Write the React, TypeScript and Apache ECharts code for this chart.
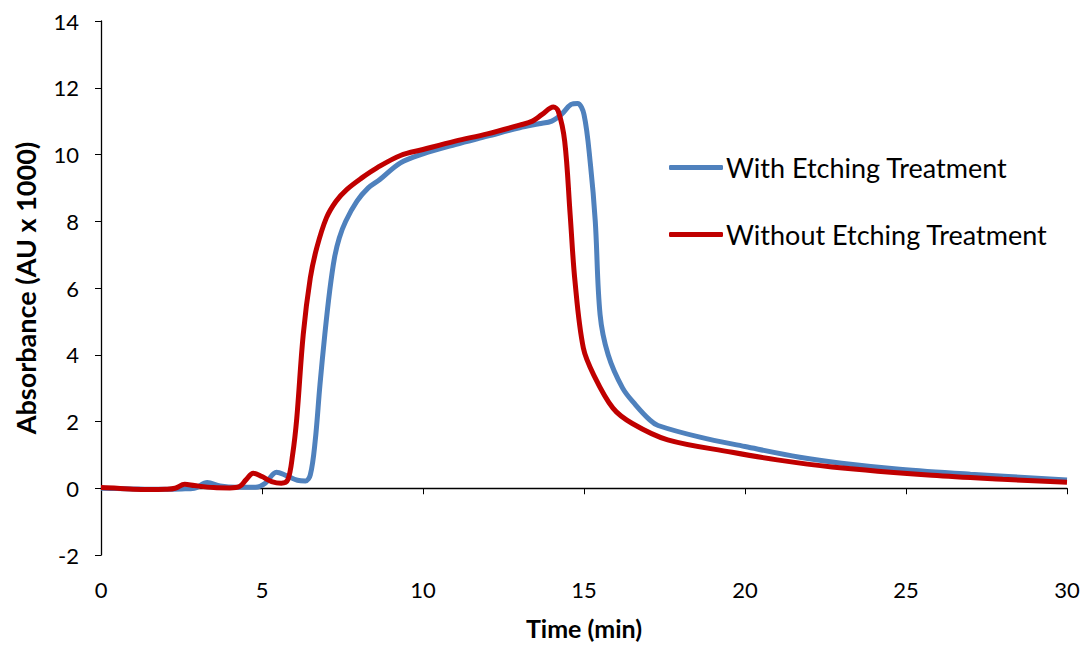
import React, { useEffect, useRef } from "react";
import * as echarts from "echarts";

// Absorbance traces (AU x 1000) versus elution time (min)
const withEtching: [number, number][] = [
  [0, 0], [0.5, -0.01], [1, -0.02], [1.5, -0.03], [2, -0.03], [2.5, -0.02],
  [2.9, 0.0], [3.3, 0.17], [3.7, 0.07], [4.2, 0.03], [4.8, 0.03], [5.1, 0.15],
  [5.45, 0.48], [5.75, 0.38], [6.1, 0.24], [6.35, 0.22], [6.5, 0.4], [6.65, 1.4],
  [6.8, 3.1], [6.95, 4.6], [7.1, 5.9], [7.25, 6.9], [7.4, 7.5], [7.6, 8.0],
  [7.95, 8.6], [8.3, 9.0], [8.66, 9.25], [9.3, 9.75], [10, 10.02], [11, 10.3],
  [12, 10.55], [13, 10.8], [13.6, 10.92], [14, 11.0], [14.3, 11.2], [14.6, 11.5],
  [14.8, 11.53], [15.0, 11.2], [15.2, 9.7], [15.35, 8.0], [15.5, 5.2], [15.75, 4.0],
  [16.2, 3.0], [16.6, 2.5], [17.05, 2.04], [17.3, 1.88], [18.6, 1.53], [20, 1.25],
  [21.7, 0.93], [23, 0.75], [24.8, 0.57], [27, 0.42], [30, 0.25],
];

const withoutEtching: [number, number][] = [
  [0, 0.02], [0.5, 0.0], [1, -0.03], [1.5, -0.04], [2, -0.03], [2.3, 0.0],
  [2.6, 0.12], [2.9, 0.08], [3.5, 0.02], [4.0, 0.01], [4.3, 0.05], [4.5, 0.25],
  [4.73, 0.45], [5.0, 0.35], [5.3, 0.2], [5.6, 0.15], [5.8, 0.25], [5.95, 1.0],
  [6.08, 2.1], [6.28, 4.6], [6.5, 6.3], [6.7, 7.2], [7.0, 8.1], [7.3, 8.6],
  [7.63, 8.95], [8.1, 9.3], [8.57, 9.6], [9.3, 9.97], [10, 10.15], [11, 10.4],
  [12, 10.62], [13, 10.88], [13.4, 11.0], [13.7, 11.2], [14.05, 11.42], [14.2, 11.3],
  [14.4, 10.4], [14.57, 8.2], [14.72, 6.2], [14.98, 4.2], [15.3, 3.4], [15.9, 2.4],
  [16.5, 1.94], [17.6, 1.45], [19.6, 1.08], [21, 0.85], [22.7, 0.64], [25.8, 0.39],
  [28, 0.27], [30, 0.18],
];

const seriesNames = ["With Etching Treatment", "Without Etching Treatment"];
const seriesColors = ["#4F81BD", "#C00000"];

const FONT = "Lato, 'Open Sans', sans-serif";

export default function App() {
  const ref = useRef<HTMLDivElement>(null);

  useEffect(() => {
    if (!ref.current) return;
    const chart = echarts.init(ref.current, undefined, { renderer: "svg" });
    const axisLine = { show: true, lineStyle: { color: "#000", width: 1.3 } };
    chart.setOption({
      animation: false,
      backgroundColor: "#fff",
      textStyle: { fontFamily: FONT },
      grid: {
        left: 101,
        right: 18,
        top: 21,
        bottom: 90,
        containLabel: false,
        outerBoundsMode: "none",
      },
      legend: {
        orient: "vertical",
        left: 664,
        top: 149,
        itemWidth: 54,
        itemHeight: 5,
        itemGap: 40,
        icon: "roundRect",
        textStyle: { fontFamily: FONT, fontSize: 27, color: "#000", padding: [0, 0, 0, -2] },
        data: seriesNames,
      },
      xAxis: {
        type: "value",
        min: 0,
        max: 30,
        interval: 5,
        name: "Time (min)",
        nameLocation: "middle",
        nameGap: 61,
        nameTextStyle: {
          fontFamily: FONT,
          fontSize: 25,
          lineHeight: 24,
          fontWeight: "bold",
          color: "#000",
        },
        axisLine,
        axisTick: { show: true, length: 6, lineStyle: { color: "#000" } },
        axisLabel: { fontFamily: FONT, fontSize: 22, color: "#000", margin: 23 },
        splitLine: { show: false },
      },
      yAxis: {
        type: "value",
        min: -2,
        max: 14,
        interval: 2,
        name: "Absorbance (AU x 1000)",
        nameLocation: "middle",
        nameGap: 62,
        nameTextStyle: { fontFamily: FONT, fontSize: 27, fontWeight: "bold", color: "#000" },
        axisLine: { ...axisLine, onZero: false },
        axisTick: { show: true, length: 6, lineStyle: { color: "#000" } },
        axisLabel: { fontFamily: FONT, fontSize: 22, color: "#000", margin: 22 },
        splitLine: { show: false },
      },
      series: [
        {
          name: seriesNames[0],
          type: "line",
          data: withEtching,
          showSymbol: false,
          symbol: "none",
          smooth: 0.35,
          lineStyle: { color: seriesColors[0], width: 5 },
          itemStyle: { color: seriesColors[0] },
        },
        {
          name: seriesNames[1],
          type: "line",
          data: withoutEtching,
          showSymbol: false,
          symbol: "none",
          smooth: 0.35,
          lineStyle: { color: seriesColors[1], width: 5 },
          itemStyle: { color: seriesColors[1] },
        },
      ],
    });
    return () => chart.dispose();
  }, []);

  return (
    <div
      ref={ref}
      style={{ position: "fixed", left: 0, top: 0, width: 1085, height: 645 }}
    />
  );
}
